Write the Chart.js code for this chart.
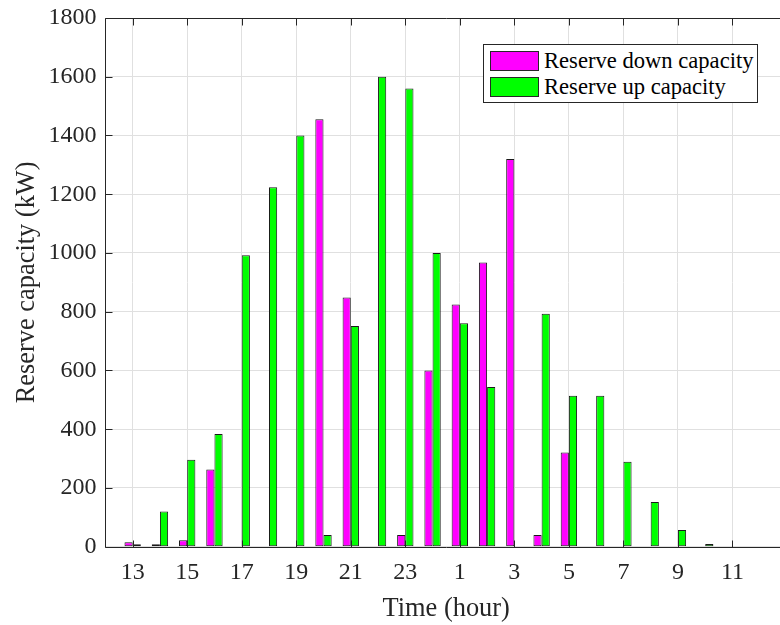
<!DOCTYPE html>
<html>
<head>
<meta charset="utf-8">
<script src="https://cdn.jsdelivr.net/npm/chart.js@4/dist/chart.umd.min.js"></script>
<style>
  html, body { margin: 0; padding: 0; background: #fff; overflow: hidden; }
  #wrap { position: relative; width: 800px; height: 625px; }
  #legend {
    position: absolute; left: 483px; top: 44px; width: 273px; height: 57px;
    border: 1px solid #262626; background: #fff; box-sizing: content-box;
    font-family: "Liberation Serif", "Times New Roman", serif; font-size: 22.6px; color: #000;
  }
  #legend .item { position: absolute; left: 6px; height: 20px; display: flex; align-items: center; white-space: nowrap; }
  #legend .sw { width: 47px; height: 18px; border: 1px solid #262626; margin-right: 5px; flex: none; }
</style>
</head>
<body>
<div id="wrap">
  <canvas id="c" width="800" height="625"></canvas>
  <div id="legend"></div>
</div>
<script>
const hours = [13,14,15,16,17,18,19,20,21,22,23,24,1,2,3,4,5,6,7,8,9,10,11,12];
const downCapacity = [15,8,22,263,0,0,0,1455,848,0,40,600,825,968,1320,40,321,0,0,0,0,0,0,0];
const upCapacity = [8,120,296,384,992,1224,1400,40,751,1600,1560,1000,761,544,0,793,514,514,289,152,57,9,0,0];
const yTicks = [0,200,400,600,800,1000,1200,1400,1600,1800];
const xTickHours = [13,15,17,19,21,23,1,3,5,7,9,11];
const seriesLabels = ['Reserve down capacity', 'Reserve up capacity'];
const seriesColors = ['#ff00ff', '#00ff00'];

// sequential time index: first hour is 13
const startIdx = 13;
const pos = hours.map((h, i) => startIdx + i);
const xTickPos = xTickHours.map(h => pos[hours.indexOf(h)]);

const axisColor = '#262626';
const gridColor = '#e0e0e0';
const serif = '"Liberation Serif", "Times New Roman", serif';

const frameTicks = {
  id: 'frameTicks',
  afterDraw(chart) {
    const { ctx, chartArea: a, scales } = chart;
    ctx.save();
    ctx.strokeStyle = axisColor;
    ctx.lineWidth = 1;
    ctx.beginPath();
    const L = Math.round(a.left) + 0.5, R = Math.round(a.right) + 0.5;
    const T = Math.round(a.top) + 0.5, B = Math.round(a.bottom) + 0.5;
    ctx.moveTo(R, T); ctx.lineTo(L, T); ctx.lineTo(L, B); ctx.lineTo(R, B); ctx.lineTo(R, T);
    const tl = 7;
    scales.x.ticks.forEach(t => {
      const px = Math.round(scales.x.getPixelForValue(t.value)) + 0.5;
      ctx.moveTo(px, B); ctx.lineTo(px, B - tl);
      ctx.moveTo(px, T); ctx.lineTo(px, T + tl);
    });
    scales.y.ticks.forEach(t => {
      const py = Math.round(scales.y.getPixelForValue(t.value)) + 0.5;
      ctx.moveTo(L, py); ctx.lineTo(L + tl, py);
      ctx.moveTo(R, py); ctx.lineTo(R - tl, py);
    });
    ctx.stroke();
    ctx.restore();
  }
};

const chart = new Chart(document.getElementById('c'), {
  type: 'bar',
  data: {
    datasets: [
      { label: seriesLabels[0], data: downCapacity.map((v, i) => ({ x: pos[i], y: v })),
        backgroundColor: seriesColors[0], borderColor: '#1a1a1a', borderWidth: 1, borderSkipped: false },
      { label: seriesLabels[1], data: upCapacity.map((v, i) => ({ x: pos[i], y: v })),
        backgroundColor: seriesColors[1], borderColor: '#1a1a1a', borderWidth: 1, borderSkipped: false }
    ]
  },
  options: {
    responsive: false,
    animation: false,
    events: [],
    layout: { padding: { top: 18, right: 13, bottom: 0, left: 0 } },
    datasets: { bar: { categoryPercentage: 0.6, barPercentage: 1.0, grouped: true } },
    plugins: { legend: { display: false }, tooltip: { enabled: false } },
    scales: {
      x: {
        type: 'linear',
        offset: false,
        min: 12, max: 37,
        afterBuildTicks: s => { s.ticks = xTickPos.map(v => ({ value: v })); },
        afterFit: s => { s.height = 78.3; s.paddingLeft = 0; s.paddingRight = 0; },
        ticks: {
          autoSkip: false, maxRotation: 0,
          color: axisColor, font: { family: serif, size: 24 }, padding: 12,
          callback: v => String(hours[pos.indexOf(v)])
        },
        grid: { color: gridColor, drawTicks: false, lineWidth: 1, offset: false },
        border: { display: false },
        title: { display: true, text: 'Time (hour)', color: axisColor, font: { family: serif, size: 26.4 }, padding: { top: 4, bottom: 0 } }
      },
      y: {
        min: 0, max: 1800,
        afterBuildTicks: s => { s.ticks = yTicks.map(v => ({ value: v })); },
        afterFit: s => { s.width = 105.4; s.paddingTop = 0; s.paddingBottom = 0; },
        ticks: { color: axisColor, font: { family: serif, size: 24 }, padding: 9, callback: v => String(v) },
        grid: { color: gridColor, drawTicks: false, lineWidth: 1 },
        border: { display: false },
        title: { display: true, text: 'Reserve capacity (kW)', color: axisColor, font: { family: serif, size: 26.4 }, padding: { top: 11, bottom: 0 } }
      }
    }
  },
  plugins: [frameTicks]
});

// legend built from the chart's datasets
const lg = document.getElementById('legend');
chart.data.datasets.forEach((ds, i) => {
  const it = document.createElement('div');
  it.className = 'item';
  it.style.top = (6 + i * 26) + 'px';
  const sw = document.createElement('span');
  sw.className = 'sw';
  sw.style.background = ds.backgroundColor;
  const tx = document.createElement('span');
  tx.textContent = ds.label;
  it.appendChild(sw); it.appendChild(tx);
  lg.appendChild(it);
});
</script>
</body>
</html>
